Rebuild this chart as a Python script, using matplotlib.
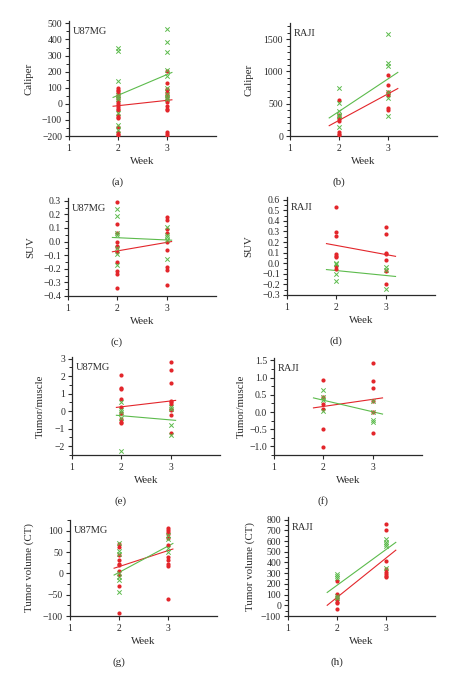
import matplotlib
matplotlib.use("Agg")
import matplotlib.pyplot as plt
from matplotlib.ticker import MultipleLocator, AutoMinorLocator

W, H = 465, 678
RED   = "#e3262b"
GREEN = "#5cbb4c"
INK   = "#2a2a2a"

plt.rcParams.update({
    "font.family": "Liberation Serif",
    "axes.edgecolor": INK, "axes.linewidth": 0.9,
    "xtick.color": INK, "ytick.color": INK,
    "xtick.labelsize": 7, "ytick.labelsize": 7,
    "xtick.major.size": 3, "ytick.major.size": 3, "ytick.minor.size": 2,
    "xtick.major.width": 0.8, "ytick.major.width": 0.8, "ytick.minor.width": 0.7,
})

WEEK_TICKS = [1, 2, 3]

# ─────────────────────────────────────────────
# DATA
# ─────────────────────────────────────────────
# (a) Caliper, U87MG
a_red_w2 = [98, 88, 78, 65, 50, 35, 20, 5, -8, -20, -30, -40, -70, -80, -90, -145, -178, -185, -195]
a_grn_w2 = [345, 328, 145, 55, 40, 30, -60, -130, -160]
a_red_w3 = [205, 130, 95, 85, 70, 55, 40, 25, 10, -15, -30, -40, -175, -185, -200]
a_grn_w3 = [465, 385, 325, 212, 175, 100, 60, 45, 30]
a_red_fit = [-15, 25]
a_grn_fit = [40, 195]

# (b) Caliper, RAJI
b_red_w2 = [553, 330, 300, 260, 240, 65, 35, 10]
b_grn_w2 = [750, 512, 385, 330, 310, 140]
b_red_w3 = [950, 795, 680, 660, 640, 430, 410]
b_grn_w3 = [1575, 1130, 1090, 680, 595, 305]
b_red_fit = [160, 735]
b_grn_fit = [280, 985]

# (c) SUV, U87MG
c_red_w2 = [0.29, 0.13, 0.06, 0.0, -0.03, -0.04, -0.08, -0.15, -0.22, -0.24, -0.34]
c_grn_w2 = [0.24, 0.19, 0.06, 0.05, -0.05, -0.09, -0.17]
c_red_w3 = [0.18, 0.16, 0.09, 0.06, 0.0, -0.06, -0.19, -0.21, -0.32]
c_grn_w3 = [0.11, 0.05, 0.03, 0.01, -0.13]
c_red_fit = [-0.075, 0.0]
c_grn_fit = [0.03, 0.01]

# (d) SUV, RAJI
d_red_w2 = [0.53, 0.29, 0.26, 0.09, 0.07, 0.06, -0.03, -0.05]
d_grn_w2 = [0.0, -0.01, -0.10, -0.17]
d_red_w3 = [0.34, 0.28, 0.10, 0.09, 0.03, -0.07, -0.20]
d_grn_w3 = [-0.04, -0.06, -0.24]
d_red_fit = [0.185, 0.065]
d_grn_fit = [-0.06, -0.125]

# (e) Tumor/muscle, U87MG
e_red_w2 = [2.07, 1.3, 1.25, 0.7, 0.27, -0.1, -0.45, -0.62, -0.68]
e_grn_w2 = [0.52, 0.05, -0.02, -0.38, -2.27]
e_red_w3 = [2.83, 2.33, 1.62, 0.6, 0.5, 0.42, 0.12, 0.05, -0.2, -1.27]
e_grn_w3 = [0.25, 0.1, -0.8, -1.38]
e_red_fit = [0.22, 0.62]
e_grn_fit = [-0.23, -0.52]

# (f) Tumor/muscle, RAJI
f_red_w2 = [0.93, 0.45, 0.22, 0.08, -0.48, -1.03]
f_grn_w2 = [0.65, 0.45, 0.35, 0.02]
f_red_w3 = [1.42, 0.89, 0.69, 0.33, 0.0, -0.62]
f_grn_w3 = [0.32, 0.0, -0.22, -0.3]
f_red_fit = [0.12, 0.41]
f_grn_fit = [0.41, -0.06]

# (g) Tumor volume (CT), U87MG
g_red_w2 = [68, 62, 43, 31, 23, 20, 5, -4, -30, -94]
g_grn_w2 = [72, 52, 45, 0, -8, -16, -43]
g_red_w3 = [107, 102, 96, 92, 82, 66, 39, 31, 21, 18, -60]
g_grn_w3 = [91, 80, 59, 49]
g_red_fit = [12, 57]
g_grn_fit = [-4, 70]

# (h) Tumor volume (CT), RAJI
h_red_w2 = [228, 110, 80, 55, 35, 18, -30]
h_grn_w2 = [295, 275, 255, 85, 65]
h_red_w3 = [760, 700, 410, 340, 310, 290, 275, 260]
h_grn_w3 = [620, 595, 575, 550, 345]
h_red_fit = [0, 515]
h_grn_fit = [120, 588]

U87_FIT_X  = [1.9, 3.1]
RAJI_FIT_X = [1.8, 3.2]

# panel specs: box in pixels (left, top, right, bottom), ylim, major step, minor count
panels = [
    dict(tag="(a)", cell="U87MG", ylabel="Caliper", box=(69, 21, 216, 136), ylim=(-200, 515), step=100, minor=2,
         data=(a_red_w2, a_red_w3, a_grn_w2, a_grn_w3, a_red_fit, a_grn_fit), fx=U87_FIT_X, ylx=-36),
    dict(tag="(b)", cell="RAJI", ylabel="Caliper", box=(290, 23, 437, 136), ylim=(0, 1750), step=500, minor=5,
         data=(b_red_w2, b_red_w3, b_grn_w2, b_grn_w3, b_red_fit, b_grn_fit), fx=RAJI_FIT_X, ylx=-37),
    dict(tag="(c)", cell="U87MG", ylabel="SUV", box=(68, 198, 216, 296), ylim=(-0.4, 0.32), step=0.1, minor=2,
         data=(c_red_w2, c_red_w3, c_grn_w2, c_grn_w3, c_red_fit, c_grn_fit), fx=U87_FIT_X, ylx=-33),
    dict(tag="(d)", cell="RAJI", ylabel="SUV", box=(287, 197, 435, 295), ylim=(-0.3, 0.625), step=0.1, minor=2,
         data=(d_red_w2, d_red_w3, d_grn_w2, d_grn_w3, d_red_fit, d_grn_fit), fx=RAJI_FIT_X, ylx=-34),
    dict(tag="(e)", cell="U87MG", ylabel="Tumor/muscle", box=(72, 357, 220, 455), ylim=(-2.5, 3.1), step=1, minor=2,
         data=(e_red_w2, e_red_w3, e_grn_w2, e_grn_w3, e_red_fit, e_grn_fit), fx=U87_FIT_X, ylx=-27),
    dict(tag="(f)", cell="RAJI", ylabel="Tumor/muscle", box=(274, 358, 422, 455), ylim=(-1.25, 1.57), step=0.5, minor=2,
         data=(f_red_w2, f_red_w3, f_grn_w2, f_grn_w3, f_red_fit, f_grn_fit), fx=RAJI_FIT_X, ylx=-28),
    dict(tag="(g)", cell="U87MG", ylabel="Tumor volume (CT)", box=(70, 520, 217, 616), ylim=(-100, 125), step=50, minor=2,
         data=(g_red_w2, g_red_w3, g_grn_w2, g_grn_w3, g_red_fit, g_grn_fit), fx=U87_FIT_X, ylx=-36),
    dict(tag="(h)", cell="RAJI", ylabel="Tumor volume (CT)", box=(288, 517, 435, 616), ylim=(-100, 825), step=100, minor=2,
         data=(h_red_w2, h_red_w3, h_grn_w2, h_grn_w3, h_red_fit, h_grn_fit), fx=RAJI_FIT_X, ylx=-33),
]

fig = plt.figure(figsize=(W / 100, H / 100), dpi=100)

for p in panels:
    l, t, r, b = p["box"]
    ax = fig.add_axes([l / W, 1 - b / H, (r - l) / W, (b - t) / H])
    red_w2, red_w3, grn_w2, grn_w3, red_fit, grn_fit = p["data"]

    ax.scatter([2] * len(red_w2), red_w2, s=9, color=RED, linewidths=0, zorder=3)
    ax.scatter([3] * len(red_w3), red_w3, s=9, color=RED, linewidths=0, zorder=3)
    ax.scatter([2] * len(grn_w2), grn_w2, s=10, marker="x", color=GREEN, linewidths=0.7, zorder=4)
    ax.scatter([3] * len(grn_w3), grn_w3, s=10, marker="x", color=GREEN, linewidths=0.7, zorder=4)
    ax.plot(p["fx"], red_fit, color=RED, linewidth=0.8, zorder=2)
    ax.plot(p["fx"], grn_fit, color=GREEN, linewidth=0.8, zorder=2)

    ax.set_xlim(1, 4)
    ax.set_ylim(*p["ylim"])
    ax.set_xticks(WEEK_TICKS)
    ax.yaxis.set_major_locator(MultipleLocator(p["step"]))
    ax.yaxis.set_minor_locator(AutoMinorLocator(p["minor"]))
    ax.tick_params(axis="both", direction="out", pad=2)
    ax.tick_params(axis="x", pad=3)
    for s in ("top", "right"):
        ax.spines[s].set_visible(False)
    ax.set_facecolor("none")

    ax.set_ylabel(p["ylabel"], fontsize=7.8, color=INK)
    ax.yaxis.set_label_coords(p["ylx"] / (r - l), 0.5)
    ax.set_xlabel("Week", fontsize=7.8, color=INK)
    ax.xaxis.set_label_coords(0.5, -21 / (b - t))

    fig.text((l + 4) / W, 1 - (t + 6) / H, p["cell"], fontsize=7.5, color=INK, va="top", ha="left")
    fig.text((l + (r - l) / 2 - 25) / W, 1 - (b + 46) / H, p["tag"], fontsize=8, color=INK,
             va="center", ha="center")

fig.savefig("out.png", dpi=100)
